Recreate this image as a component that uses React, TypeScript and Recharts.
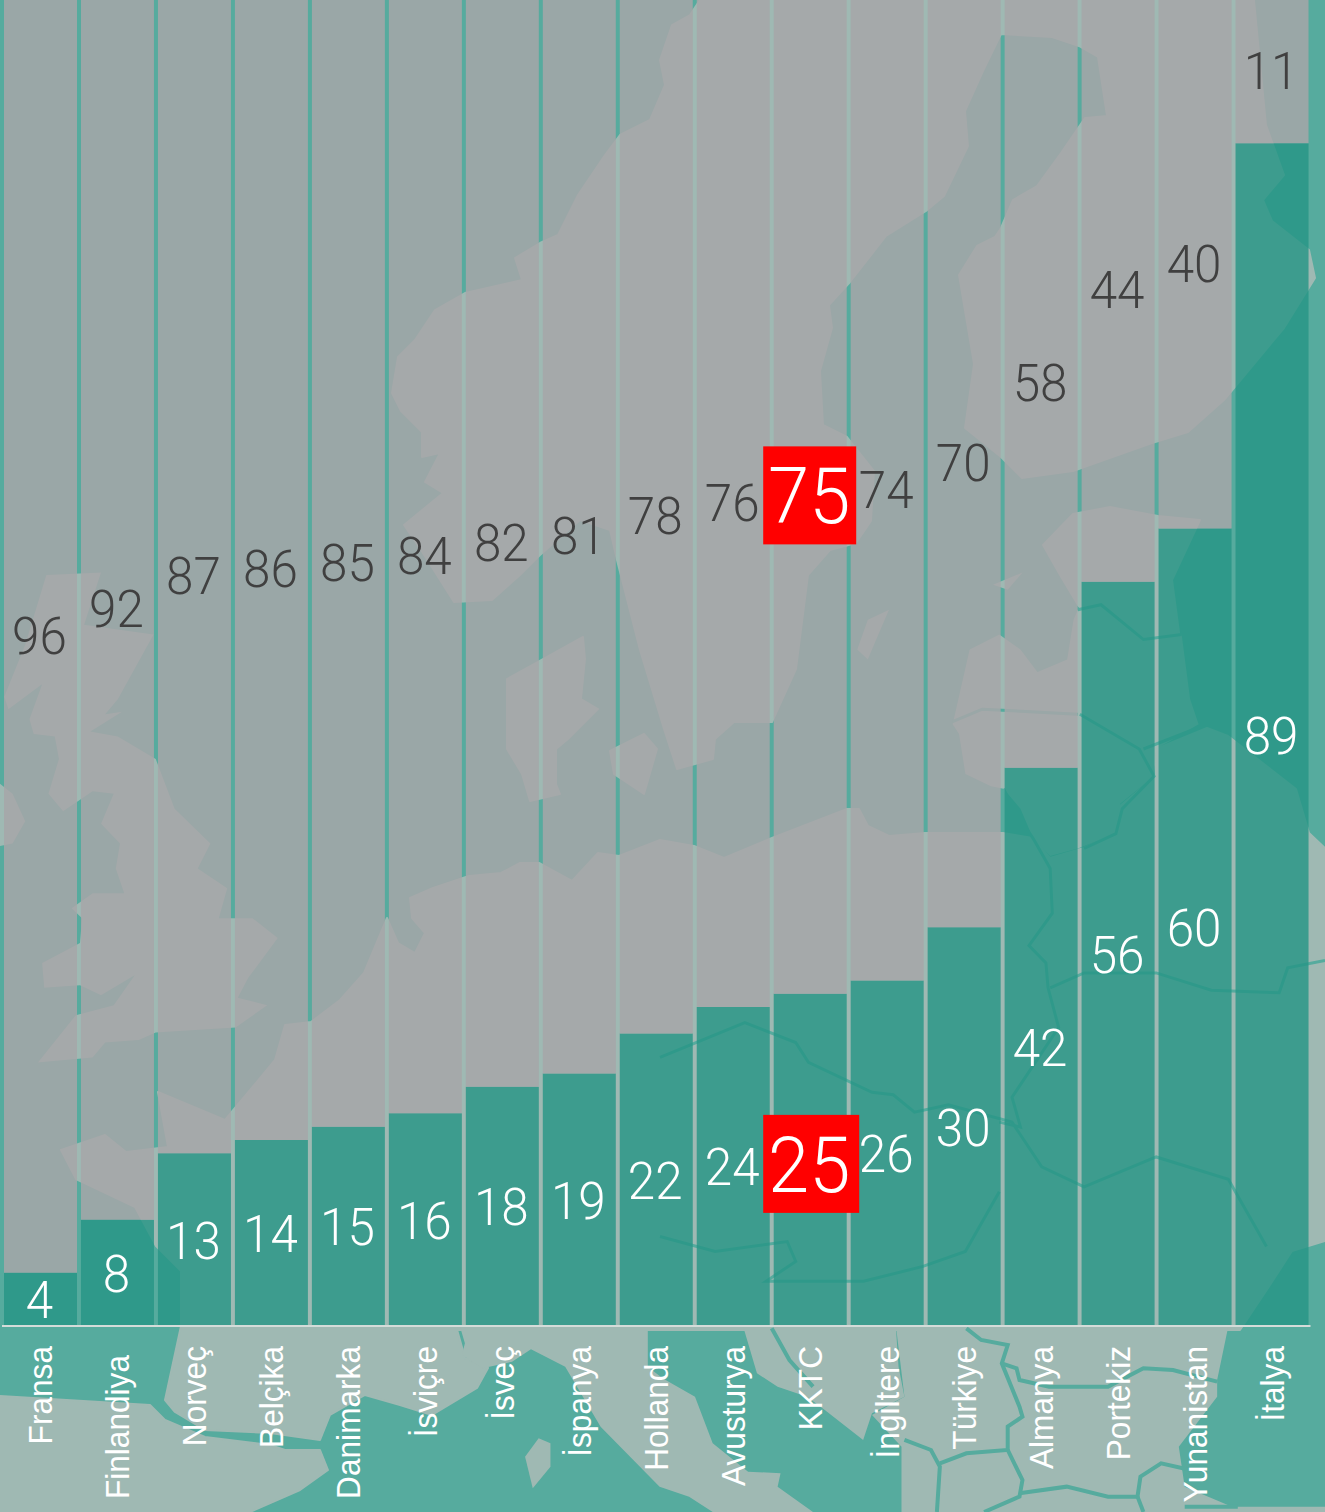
import { Bar, BarChart, LabelList, XAxis, YAxis } from "recharts";

const countries = ["Fransa", "Finlandiya", "Norveç", "Belçika", "Danimarka", "İsviçre", "İsveç", "İspanya", "Hollanda", "Avusturya", "KKTC", "İngiltere", "Türkiye", "Almanya", "Portekiz", "Yunanistan", "İtalya"];
const yesValues = [4, 8, 13, 14, 15, 16, 18, 19, 22, 24, 25, 26, 30, 42, 56, 60, 89];
const noValues = [96, 92, 87, 86, 85, 84, 82, 81, 78, 76, 75, 74, 70, 58, 44, 40, 11];
const highlighted = "KKTC";

const data = countries.map((name, i) => ({ name, yes: yesValues[i], no: noValues[i] }));

const SEA = "#56ab9e";
const LAND = "#9fb9b3";

// background map, rough outlines
const scandinavia = "700,0 690,15 672,25 660,60 665,85 650,120 620,135 605,155 578,195 558,235 540,243 515,258 522,280 465,293 435,310 415,340 398,357 392,393 401,411 422,432 422,457 440,453 425,482 443,493 404,525 421,550 454,602 492,600 520,575 540,555 580,520 610,530 617,560 640,650 664,729 677,769 713,759 715,739 734,722 772,722 796,669 808,575 830,550 856,543 871,521 874,471 847,437 823,425 820,371 832,328 829,305 850,282 886,236 926,211 944,196 968,146 965,111 983,71 1001,34 1052,37 1079,46 1098,57 1107,116 1085,118 1061,153 1037,186 1013,200 1001,228 995,237 977,246 959,275 974,364 965,428 1001,457 1022,478 1073,471 1152,443 1188,432 1224,400 1284,328 1315,278 1309,250 1272,221 1263,200 1284,175 1266,125 1254,0";
const continent = "1156,749 1207,728 1228,736 1296,789 1309,833 1325,848 1325,1241 1292,1251 1270,1285 1240,1330 181,1330 181,1271 156,1246 135,1207 76,1179 61,1150 105,1135 126,1152 168,1147 158,1092 225,1120 275,1060 285,1025 311,1022 340,1000 364,973 387,918 398,943 415,953 425,933 412,918 410,898 433,888 469,876 501,873 520,863 539,863 572,881 598,853 619,856 660,840 694,846 724,858 772,838 847,809 859,809 868,826 889,836 925,833 1003,833 1033,838 1050,858 1084,848 1116,833 1120,806 1156,776";
const denmark = "507,679 543,659 583,637 585,659 581,699 598,709 568,739 556,749 556,784 560,794 530,801 522,774 507,749";
const zealand = "610,751 644,734 657,749 644,794 614,774";
const estonia = "1043,545 1073,514 1110,507 1158,516 1200,520 1172,580 1180,640 1110,640 1078,605 1060,575";
const britain = "110,50 240,45 200,150 365,170 280,300 250,330 290,325 215,365 280,375 370,420 415,520 500,590 470,640 540,680 520,740 600,740 660,780 590,860 565,900 635,915 560,960 370,970 330,985 250,990 220,1020 90,1030 180,935 270,915 320,855 240,895 190,875 105,880 100,830 190,790 195,740 170,720 220,690 295,690 275,640 285,590 240,550 270,490 220,485 150,525 115,490 140,420 130,375 80,370 70,340 100,270 20,320 10,295 60,190";
const ireland = "0,470 30,490 60,545 30,590 0,595";
const baltic = "690,350 730,200 800,170 850,200 890,245 960,220 975,140 985,120 1040,110 1140,180 1230,170 1250,300 1270,350 1170,400 1165,455 1085,510 1075,570 985,600 920,615 880,580 850,520 810,480 780,475 720,450 705,370";
const gotland = "465,200 490,140 540,120 510,180 490,220";
const saaremaa = "785,70 855,45 820,80";
const stripWest = "181,1326 165,1400 175,1412 205,1430 270,1433 320,1440 330,1415 365,1395 400,1405 432,1415 477,1388 488,1368 465,1358 456,1326";
const spain = "0,1396 150,1405 165,1420 205,1437 270,1445 285,1450 320,1450 328,1470 300,1490 250,1512 0,1512";
const stripItaly = "100,70 110,130 105,165 140,205 190,185 222,148 280,200 340,380 440,560 490,590 530,636 700,636 640,560 645,520 590,515 530,430 500,290 445,235 420,200 420,70";
const stripIsland = "235,415 255,430 255,500 225,565 212,470";
const stripBalkan = "580,70 840,70 845,200 855,290 800,340 785,420 720,330 690,290 640,260 605,220 590,130";
const stripEast = "840,70 1405,70 1385,240 1385,290 1320,440 1330,560 1410,620 1568,620 1568,636 850,636 850,440 800,345 855,290";
const stripLines = [
  "630,85 660,180 700,260",
  "960,85 985,120 1030,135 1020,190 1050,320 1055,350 1030,380 1030,450 960,460 915,490",
  "1020,190 1045,205 1050,240 1100,260 1200,260 1260,205 1310,210 1385,245",
  "855,420 900,450 915,500 910,636",
  "1030,450 1055,540 1050,590 990,636",
  "1050,580 1130,560 1200,590 1250,590 1255,530 1290,490 1340,510",
  "1250,590 1260,636",
  "1330,620 1420,620",
];
const borderLines = [
  "810,480 840,530 880,580 920,640 925,730 870,795 910,830 915,880 940,960 830,1100 850,1160 800,1150",
  "0,1020 200,950 320,990 350,1030 500,1090 550,1095 600,1130 680,1115 830,1150 900,1240 1000,1280 1170,1220 1340,1265 1430,1400",
  "920,880 1000,850 1170,850 1300,885 1460,890 1480,840 1568,825",
  "990,330 1130,400 1165,455 1090,520 1075,570 1000,600",
  "1140,400 1290,350",
  "985,120 1040,110 1140,180 1230,170",
  "690,345 760,320 985,330",
  "0,1380 130,1410 300,1390 320,1430 250,1470 480,1470 620,1440 720,1410 800,1290",
];

function MapBackground() {
  const shape = { fill: LAND, stroke: LAND, strokeWidth: 2, strokeLinejoin: "round" as const };
  return (
    <svg width={1325} height={1512} style={{ position: "absolute", left: 0, top: 0 }}>
      <rect width={1325} height={1512} fill={SEA} />
      <polygon points={scandinavia} {...shape} />
      <polygon points={continent} {...shape} />
      <polygon points={denmark} {...shape} />
      <polygon points={zealand} {...shape} />
      <polygon points={estonia} {...shape} />
      <polygon points={stripWest} {...shape} />
      <polygon points={spain} {...shape} />
      <g transform="translate(0 550) scale(0.4209 0.4975)">
        <polygon points={britain} fill={LAND} />
        <polygon points={ireland} fill={LAND} />
      </g>
      <g transform="translate(660 550) scale(0.4241 0.4975)">
        <polygon points={baltic} fill={LAND} />
        <polygon points={gotland} fill={LAND} />
        <polygon points={saaremaa} fill={LAND} />
        {borderLines.map((l) => (
          <polyline key={l} points={l} fill="none" stroke={SEA} strokeWidth={3} vectorEffect="non-scaling-stroke" />
        ))}
      </g>
      <g transform="translate(400 1300) scale(0.59 0.3333)">
        <polygon points={stripItaly} fill={LAND} />
        <polygon points={stripIsland} fill={LAND} />
        <polygon points={stripBalkan} fill={LAND} />
        <polygon points={stripEast} fill={LAND} />
        {stripLines.map((l) => (
          <polyline key={l} points={l} fill="none" stroke={SEA} strokeWidth={4} vectorEffect="non-scaling-stroke" />
        ))}
      </g>
    </svg>
  );
}

function CountryTick({ x, y, payload }: any) {
  // Finlandiya sits a little lower than the others in the original
  const shift = payload.value === "Finlandiya" ? 9 : 0;
  return (
    <text
      transform={`translate(${x + 12} ${y + 12 + shift}) rotate(-90) scale(0.93 1)`}
      textAnchor="end"
      fontFamily="Liberation Sans"
      fontSize={34}
      fill="#ffffff"
    >
      {payload.value}
    </text>
  );
}

function makeLabel(color: string, values: number[]) {
  return function ValueLabel({ x, y, width, height, index }: any) {
    const cx = x + width / 2;
    const cy = y + height / 2;
    const isRed = countries[index] === highlighted;
    const isLower = values === yesValues;
    const size = isRed ? 78 : 52;
    const textY = isRed && isLower ? cy + 4 : cy;
    return (
      <g>
        {isRed && <rect x={cx - 47} y={textY - 49} width={isLower ? 96 : 93} height={98} fill="#ff0000" />}
        <text
          transform={`translate(${cx - 1} ${textY + 1}) scale(0.95 1)`}
          textAnchor="middle"
          dominantBaseline="central"
          fontFamily="Roboto"
          fontWeight={300}
          fontSize={size}
          fill={isRed ? "#ffffff" : color}
        >
          {values[index]}
        </text>
      </g>
    );
  };
}

export default function App() {
  return (
    <div style={{ position: "absolute", left: 0, top: 0, width: 1325, height: 1512, overflow: "hidden" }}>
      <MapBackground />
      <div style={{ position: "absolute", left: 0, top: 0 }}>
        <BarChart width={1325} height={1512} data={data} barSize={73} margin={{ top: -3, right: 14.5, bottom: 0, left: 2 }}>
          <XAxis
            dataKey="name"
            interval={0}
            height={186}
            tick={CountryTick}
            tickLine={false}
            axisLine={{ stroke: "#d4dcd9", strokeWidth: 2 }}
          />
          <YAxis hide domain={[0, 100]} />
          <Bar dataKey="yes" stackId="a" fill="#269585" fillOpacity={0.81} isAnimationActive={false}>
            <LabelList dataKey="yes" content={makeLabel("#ffffff", yesValues)} />
          </Bar>
          <Bar dataKey="no" stackId="a" fill="#a6a6a8" fillOpacity={0.85} isAnimationActive={false}>
            <LabelList dataKey="no" content={makeLabel("#404040", noValues)} />
          </Bar>
        </BarChart>
      </div>
    </div>
  );
}
